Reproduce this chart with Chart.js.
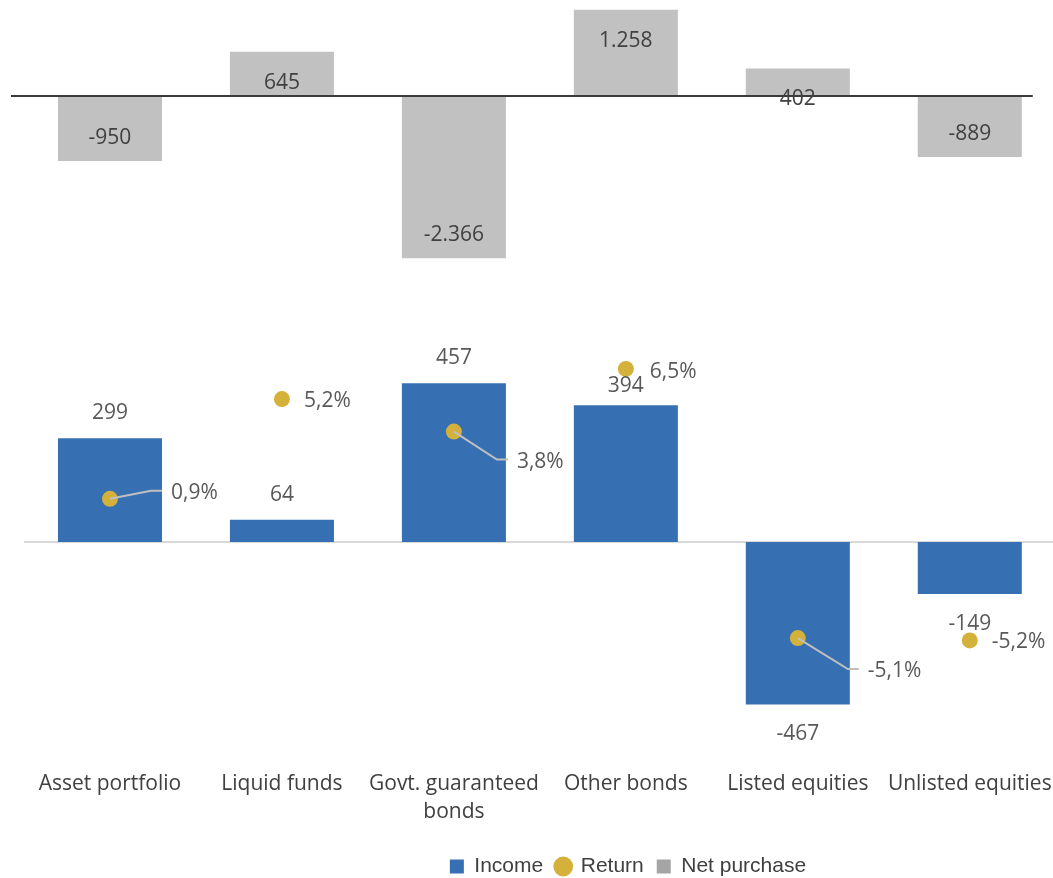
<!DOCTYPE html>
<html>
<head>
<meta charset="utf-8">
<title>Income, return and net purchase</title>
<script src="https://cdn.jsdelivr.net/npm/chart.js@4.4.1/dist/chart.umd.min.js"></script>
<style>
  html, body { margin: 0; padding: 0; background: #fff; overflow: hidden; }
  #wrap { width: 1053px; height: 878px; overflow: hidden; }
  canvas { display: block; }
</style>
</head>
<body>
<div id="wrap"><canvas id="assetChart" width="1060" height="878"></canvas></div>
<script>
// categories and series
const categories = ['Asset portfolio', 'Liquid funds', ['Govt. guaranteed', 'bonds'], 'Other bonds', 'Listed equities', 'Unlisted equities'];
const income = [299, 64, 457, 394, -467, -149];
const returns = [0.9, 5.2, 3.8, 6.5, -5.1, -5.2];
const netPurchase = [-950, 645, -2366, 1258, 402, -889];

const BLUE = '#3670b2';
const GOLD = '#d4b13a';
const GRAY = '#c0c1c0';

// 1.258 / -2.366 style
function fmtThousands(v) {
    const s = Math.abs(v).toString().replace(/\B(?=(\d{3})+(?!\d))/g, '.');
    return (v < 0 ? '-' : '') + s;
}
function fmtPct(v) {
    return v.toFixed(1).replace('.', ',') + '%';
}

// zero lines, value labels and leader lines
const valueLabels = {
    id: 'valueLabels',
    beforeDatasetsDraw(chart) {
        const ctx = chart.ctx;
        const area = chart.chartArea;
        const y0 = chart.scales.yIncome.getPixelForValue(0);
        ctx.save();
        ctx.strokeStyle = '#d9d9d9';
        ctx.lineWidth = 2;
        ctx.beginPath();
        ctx.moveTo(area.left, y0);
        ctx.lineTo(area.right, y0);
        ctx.stroke();
        ctx.restore();
    },
    afterDatasetsDraw(chart, args, opts) {
        const ctx = chart.ctx;
        const area = chart.chartArea;
        ctx.save();

        // axis line of the net purchase bars
        const yN = chart.scales.yNet.getPixelForValue(0);
        ctx.strokeStyle = '#3a3a3a';
        ctx.lineWidth = 2;
        ctx.beginPath();
        ctx.moveTo(area.left - 13, yN);
        ctx.lineTo(area.right - 23, yN);
        ctx.stroke();

        ctx.font = '21px "Open Sans"';
        ctx.textBaseline = 'middle';

        // net purchase: inside end
        ctx.textAlign = 'center';
        ctx.fillStyle = '#404040';
        chart.getDatasetMeta(2).data.forEach((el, i) => {
            const v = netPurchase[i];
            const y = v >= 0 ? el.y + opts.insidePos : el.y - opts.insideNeg;
            ctx.fillText(fmtThousands(v), el.x, y);
        });

        // income: outside end
        ctx.fillStyle = '#595959';
        chart.getDatasetMeta(0).data.forEach((el, i) => {
            const v = income[i];
            const y = (v >= 0 ? el.y - opts.outsidePos : el.y + opts.outsideNeg) + (opts.incomeNudge[i] || 0);
            ctx.fillText(fmtThousands(v), el.x, y);
        });

        // return: label to the right, with a leader line when moved away
        ctx.textAlign = 'left';
        ctx.strokeStyle = '#bfbfbf';
        ctx.lineWidth = 2;
        chart.getDatasetMeta(1).data.forEach((el, i) => {
            const [dx, dy] = opts.returnOffsets[i];
            const tx = el.x + dx;
            const ty = el.y + dy;
            if (dx > 40) {
                ctx.beginPath();
                ctx.moveTo(el.x, el.y);
                ctx.lineTo(tx - 20, ty);
                ctx.lineTo(tx - 9, ty);
                ctx.stroke();
            }
            ctx.fillText(fmtPct(returns[i]), tx, ty + 2);
        });
        ctx.restore();
    }
};

// moves the legend row to sit under the plot
const legendShift = {
    id: 'legendShift',
    afterLayout(chart, args, opts) {
        const lg = chart.legend;
        lg.left += opts.x;
        lg.right += opts.x;
        lg.top += opts.y;
        lg.bottom += opts.y;
    }
};

new Chart(document.getElementById('assetChart'), {
    type: 'bar',
    data: {
        labels: categories,
        datasets: [{
            label: 'Income',
            data: income,
            backgroundColor: BLUE,
            borderWidth: 0,
            yAxisID: 'yIncome',
            grouped: false,
            barPercentage: 0.605,
            categoryPercentage: 1,
            pointStyle: 'rect',
            order: 1
        }, {
            type: 'line',
            label: 'Return',
            data: returns,
            yAxisID: 'yReturn',
            showLine: false,
            borderColor: GOLD,
            backgroundColor: GOLD,
            pointBackgroundColor: GOLD,
            pointBorderWidth: 0,
            pointRadius: 8,
            pointHoverRadius: 8,
            pointStyle: 'circle',
            order: 0
        }, {
            label: 'Net purchase',
            data: netPurchase,
            backgroundColor: GRAY,
            borderWidth: 0,
            yAxisID: 'yNet',
            grouped: false,
            barPercentage: 0.605,
            categoryPercentage: 1,
            pointStyle: 'rect',
            order: 2
        }]
    },
    options: {
        responsive: false,
        animation: false,
        layout: {
            autoPadding: false,
            padding: { left: 24, right: 4, top: 0, bottom: -1 }
        },
        plugins: {
            tooltip: { enabled: false },
            legend: {
                position: 'bottom',
                labels: {
                    font: { family: 'Liberation Sans', size: 21 },
                    color: '#404040',
                    usePointStyle: true,
                    boxWidth: 14,
                    boxHeight: 14,
                    padding: 13,
                    sort: (a, b) => a.datasetIndex - b.datasetIndex,
                    generateLabels(chart) {
                        const items = Chart.defaults.plugins.legend.labels.generateLabels(chart);
                        items.forEach(it => {
                            it.lineWidth = 0;
                            if (it.datasetIndex === 2) {
                                it.fillStyle = '#a5a5a5';
                            }
                        });
                        return items;
                    }
                }
            },
            valueLabels: {
                insidePos: 31,
                insideNeg: 23,
                outsidePos: 25,
                outsideNeg: 30,
                incomeNudge: [0, 0, 0, 6, 0, 0],
                returnOffsets: [[61, -8], [22, 0], [63, 28], [24, 1], [70, 31], [22, 0]]
            },
            legendShift: { x: 88, y: 8 }
        },
        scales: {
            x: {
                grid: { display: false, drawTicks: false },
                border: { display: false },
                ticks: {
                    color: '#404040',
                    font: { family: 'Open Sans', size: 21, lineHeight: 1.38 },
                    padding: 8,
                    maxRotation: 0,
                    minRotation: 0,
                    autoSkip: false
                }
            },
            yNet: { display: false, min: -9700, max: 1400 },
            yIncome: { display: false, min: -630, max: 1560 },
            yReturn: { display: false, min: -10.4, max: 22.4 }
        }
    },
    plugins: [valueLabels, legendShift]
});
</script>
</body>
</html>
